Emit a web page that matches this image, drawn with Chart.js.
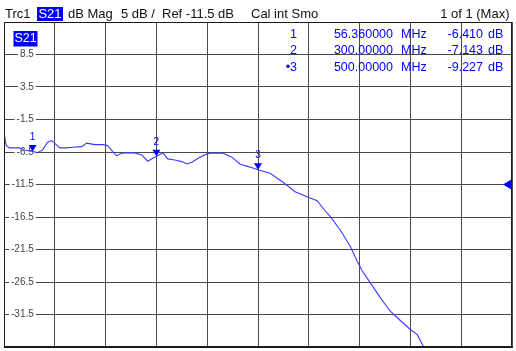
<!DOCTYPE html>
<html>
<head>
<meta charset="utf-8">
<script src="https://cdn.jsdelivr.net/npm/chart.js@4.4.0/dist/chart.umd.min.js"></script>
<style>
html,body{margin:0;padding:0;background:#fff;}
#wrap{width:516px;height:351px;position:relative;}
</style>
</head>
<body>
<div id="wrap"><canvas id="c" width="516" height="351"></canvas></div>
<script>
// ---- data ----
const freqMHz = [0, 4.3, 10.8, 30.6, 40.4, 56.36, 66, 76, 85.8, 93.7, 99.6, 109.5, 123.3, 135.1, 152.9, 162.7, 178.5, 194.3, 204.1, 214, 221.9, 231.8, 241.6, 257.4, 271.2, 283, 292.9, 300, 312.6, 322.5, 336.3, 350.1, 360, 369.8, 385.6, 399.4, 409.3, 431, 448.7, 464.5, 474.4, 490, 500, 523.7, 549.3, 573, 596.6, 616.4, 632, 642, 661.8, 681.5, 695.3, 705.2, 720.9, 740.6, 760.4, 774.2, 799.8, 813.6, 825.4, 840];
const s21dB = [-3.5, -5.5, -5.87, -5.87, -6.18, -6.41, -6.6, -6.18, -4.99, -4.74, -5.14, -5.87, -5.87, -5.76, -5.67, -5.14, -5.36, -5.36, -5.5, -6.44, -7.06, -6.69, -6.64, -6.64, -6.95, -7.92, -7.46, -7.143, -6.64, -7.56, -7.72, -7.98, -8.34, -8.08, -7.3, -6.79, -6.64, -6.69, -7.3, -8.34, -8.6, -8.95, -9.227, -9.77, -11.16, -12.6, -13.38, -14.0, -15.54, -16.4, -18.5, -21.0, -23.3, -24.8, -26.6, -28.9, -31.0, -32.0, -33.8, -34.6, -36.4, -39];

const markerNames = ['1', '2', '3'];
const markerRowNames = ['1', '2', '\u20223'];
const markerFreq = [56.36, 300, 500];
const markerDb = [-6.41, -7.143, -9.227];
const markerFreqText = ['56.360000', '300.00000', '500.00000'];
const markerDbText = ['-6.410', '-7.143', '-9.227'];

const yTickValues = [8.5, 3.5, -1.5, -6.5, -11.5, -16.5, -21.5, -26.5, -31.5];
const yTickLabels = ['8.5', '3.5', '-1.5', '-6.5', '-11.5', '-16.5', '-21.5', '-26.5', '-31.5'];
const yMin = -36.5, yMax = 13.5;
const xMin = 0, xMax = 1000, xStep = 100;
const refLevel = -11.5;

const headerTrc = 'Trc1';
const headerParam = 'S21';
const headerFormat = 'dB Mag';
const headerScale = '5 dB /';
const headerRef = 'Ref -11.5 dB';
const headerCal = 'Cal int Smo';
const headerPage = '1 of 1 (Max)';

const FONT = '"Liberation Sans", Arial, sans-serif';
const BLUE = '#0000ff';

const points = freqMHz.map((f, i) => ({x: f, y: s21dB[i]}));

function zeroFit(s) {
  if (s.isHorizontal()) { s.height = 0; } else { s.width = 0; }
  s.paddingTop = 0; s.paddingBottom = 0; s.paddingLeft = 0; s.paddingRight = 0;
}

const overlay = {
  id: 'overlay',
  afterDatasetsDraw(chart) {
    const ctx = chart.ctx;
    const xs = chart.scales.x, ys = chart.scales.y;
    const a = chart.chartArea;
    ctx.save();
    // markers
    for (let i = 0; i < markerFreq.length; i++) {
      const px = xs.getPixelForValue(markerFreq[i]);
      const py = ys.getPixelForValue(markerDb[i]);
      ctx.fillStyle = BLUE;
      ctx.beginPath();
      ctx.moveTo(px, py);
      ctx.lineTo(px - 4, py - 6.5);
      ctx.lineTo(px + 4, py - 6.5);
      ctx.closePath();
      ctx.fill();
      ctx.font = '10px ' + FONT;
      ctx.textAlign = 'center';
      ctx.textBaseline = 'middle';
      ctx.fillText(markerNames[i], px, py - 14);
    }
    // reference level arrow
    const ry = ys.getPixelForValue(refLevel);
    ctx.beginPath();
    ctx.moveTo(a.right - 9, ry);
    ctx.lineTo(a.right, ry - 5.5);
    ctx.lineTo(a.right, ry + 5.5);
    ctx.closePath();
    ctx.fill();
    // frame
    ctx.strokeStyle = '#1a1a1a';
    ctx.lineWidth = 1;
    ctx.strokeRect(Math.round(a.left) + 0.5, Math.round(a.top) + 0.5, Math.round(a.right - a.left) - 1, Math.round(a.bottom - a.top) - 1);
    ctx.restore();
  },
  afterDraw(chart) {
    const ctx = chart.ctx;
    ctx.save();
    ctx.textBaseline = 'middle';
    // header
    ctx.font = '13px ' + FONT;
    ctx.fillStyle = '#111';
    ctx.textAlign = 'left';
    ctx.fillText(headerTrc, 5, 14);
    ctx.fillStyle = BLUE;
    ctx.fillRect(37, 7, 26, 14);
    ctx.fillStyle = '#fff';
    ctx.textAlign = 'center';
    ctx.fillText(headerParam, 50, 14);
    ctx.fillStyle = '#111';
    ctx.textAlign = 'left';
    ctx.fillText(headerFormat, 68, 14);
    ctx.fillText(headerScale, 121, 14);
    ctx.fillText(headerRef, 162, 14);
    ctx.fillText(headerCal, 251, 14);
    ctx.textAlign = 'right';
    ctx.fillText(headerPage, 509.5, 14);
    // trace label box
    ctx.fillStyle = BLUE;
    ctx.fillRect(13.5, 31, 24, 15.5);
    ctx.fillStyle = '#fff';
    ctx.textAlign = 'center';
    ctx.font = '12.5px ' + FONT;
    ctx.fillText(headerParam, 25.5, 39);
    // marker table
    ctx.fillStyle = BLUE;
    ctx.font = '12.5px ' + FONT;
    const rowY = [35, 51, 67.5];
    for (let i = 0; i < markerFreq.length; i++) {
      ctx.textAlign = 'right';
      ctx.fillText(markerRowNames[i], 297, rowY[i]);
      ctx.fillText(markerFreqText[i], 393, rowY[i]);
      ctx.fillText(markerDbText[i], 483, rowY[i]);
      ctx.textAlign = 'left';
      ctx.fillText('MHz', 401, rowY[i]);
      ctx.fillText('dB', 488, rowY[i]);
    }
    ctx.restore();
  }
};

new Chart(document.getElementById('c'), {
  type: 'line',
  data: {
    datasets: [{
      data: points,
      borderColor: '#3a3aff',
      borderWidth: 1.1,
      pointRadius: 0,
      tension: 0,
      fill: false
    }]
  },
  options: {
    responsive: false,
    devicePixelRatio: 1,
    animation: false,
    layout: {padding: {left: 4, right: 4, top: 22, bottom: 4}},
    plugins: {legend: {display: false}, tooltip: {enabled: false}, title: {display: false}},
    scales: {
      x: {
        type: 'linear',
        min: xMin, max: xMax,
        afterFit: zeroFit,
        ticks: {display: false, stepSize: xStep},
        grid: {color: '#4a4a4a', lineWidth: 1, drawTicks: false},
        border: {display: true, color: '#1a1a1a'}
      },
      y: {
        type: 'linear',
        min: yMin, max: yMax,
        afterFit: zeroFit,
        afterBuildTicks: (s) => { s.ticks = yTickValues.map(v => ({value: v})); },
        ticks: {
          mirror: true,
          crossAlign: 'far',
          padding: 7,
          color: '#444',
          font: {size: 10, family: FONT},
          showLabelBackdrop: true,
          backdropColor: '#ffffff',
          backdropPadding: {left: 2, right: 2, top: 0, bottom: 0},
          callback: (v) => { const k = yTickValues.indexOf(v); return k >= 0 ? yTickLabels[k] : ''; }
        },
        grid: {color: '#4a4a4a', lineWidth: 1, drawTicks: false},
        border: {display: true, color: '#1a1a1a'}
      }
    }
  },
  plugins: [overlay]
});
</script>
</body>
</html>
